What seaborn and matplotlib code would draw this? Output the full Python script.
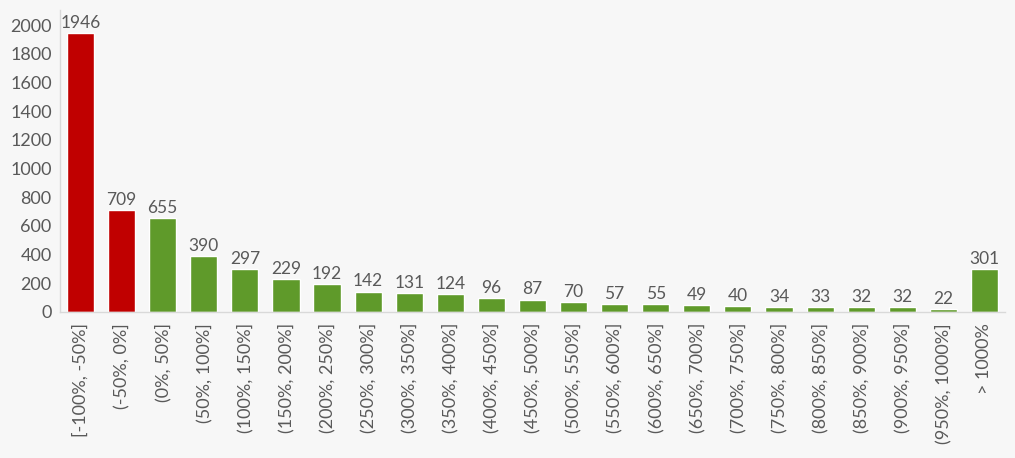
import numpy as np
import pandas as pd
import matplotlib
matplotlib.use('Agg')
import matplotlib.pyplot as plt
import seaborn as sns

# ── Data ────────────────────────────────────────────────
categories = ['[-100%, -50%]', '(-50%, 0%]', '(0%, 50%]', '(50%, 100%]',
              '(100%, 150%]', '(150%, 200%]', '(200%, 250%]', '(250%, 300%]',
              '(300%, 350%]', '(350%, 400%]', '(400%, 450%]', '(450%, 500%]',
              '(500%, 550%]', '(550%, 600%]', '(600%, 650%]', '(650%, 700%]',
              '(700%, 750%]', '(750%, 800%]', '(800%, 850%]', '(850%, 900%]',
              '(900%, 950%]', '(950%, 1000%]', '> 1000%']
counts = [1946, 709, 655, 390, 297, 229, 192, 142, 131, 124, 96, 87,
          70, 57, 55, 49, 40, 34, 33, 32, 32, 22, 301]
is_loss = [True, True] + [False] * 21

RED = '#c00000'
GREEN = '#5f9a2a'
TEXT = '#595959'
BG = '#f7f7f7'

df = pd.DataFrame({'bucket': categories, 'count': counts,
                   'group': ['loss' if l else 'gain' for l in is_loss]})

sns.set_theme(style='white')
plt.rcParams['font.family'] = ['Lato', 'DejaVu Sans']

fig = plt.figure(figsize=(10.15, 4.58), dpi=100, facecolor=BG)
ax = fig.add_axes([0.0591, 0.3188, 0.931, 0.659])
ax.set_facecolor(BG)

sns.barplot(data=df, x='bucket', y='count', hue='group',
            palette={'loss': RED, 'gain': GREEN}, dodge=False,
            width=0.66, legend=False, ax=ax, saturation=1)

for i, v in enumerate(counts):
    ax.text(i, v + 15, f"{v}", ha='center', va='bottom',
            fontsize=12.5, color=TEXT)

ax.set_ylim(0, 2105)
ax.set_xlim(-0.5, len(categories) - 0.5)
ax.set_yticks(range(0, 2001, 200))
ax.set_xlabel('')
ax.set_ylabel('')
ax.tick_params(axis='y', labelsize=13, colors=TEXT, length=0, pad=6)
ax.tick_params(axis='x', labelsize=13, colors=TEXT, length=0, pad=8,
               rotation=90)
for lbl in ax.get_xticklabels():
    lbl.set_verticalalignment('top')

for side in ['top', 'right']:
    ax.spines[side].set_visible(False)
for side in ['left', 'bottom']:
    ax.spines[side].set_color('#d9d9d9')
    ax.spines[side].set_linewidth(1)

fig.savefig('out.png', dpi=100, facecolor=BG)
